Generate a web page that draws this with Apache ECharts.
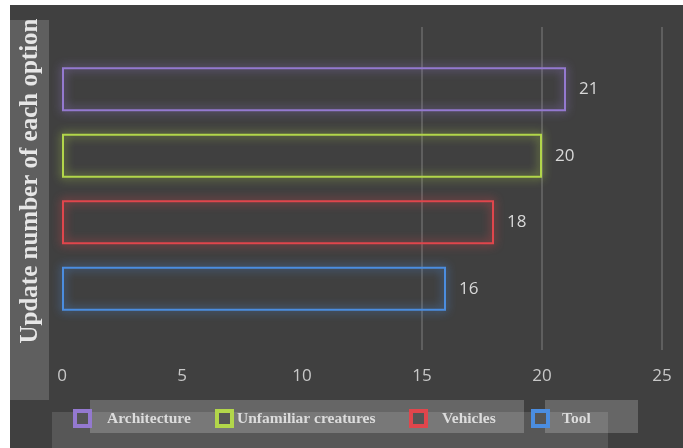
<!DOCTYPE html>
<html><head><meta charset="utf-8">
<script src="https://cdn.jsdelivr.net/npm/echarts@6/dist/echarts.min.js"></script>
<style>html,body{margin:0;padding:0;background:#fff;}#c{width:683px;height:448px;}</style>
</head><body><div id="c"></div>
<script>
const categories = ['Architecture', 'Unfamiliar creatures', 'Vehicles', 'Tool'];
const values = [21, 20, 18, 16];
const colors = ['#9479d0', '#b2d64a', '#e0464c', '#4b8de0'];
const xTicks = [0, 5, 10, 15, 20, 25];
const yTitle = 'Update number of each option';

const chart = echarts.init(document.getElementById('c'));
const series = categories.map((name, i) => ({
  name: name,
  type: 'bar',
  stack: 'all',
  xAxisIndex: 0, yAxisIndex: 0,
  barWidth: 44,
  data: categories.map((c, j) => j === i ? values[i] : null),
  itemStyle: {
    color: 'rgba(0,0,0,0)',
    borderColor: colors[i],
    borderWidth: 2,
    shadowBlur: 10,
    shadowColor: colors[i]
  },
  label: {
    show: true, position: 'right', distance: 13,
    color: '#d8d8d8', fontSize: 17, fontFamily: 'Open Sans'
  }
}));
const legendLeft = [73, 215, 409, 531];
const legendPad = [12, 0, 11, 9];
const option = {
  backgroundColor: '#404040',
  animation: false,
  graphic: [
    {type: 'rect', left: 0, top: 0, shape: {width: 10, height: 448}, style: {fill: '#ffffff'}, z: 100},
    {type: 'rect', left: 0, top: 0, shape: {width: 683, height: 5}, style: {fill: '#ffffff'}, z: 100},
    {type: 'rect', left: 10, top: 20, shape: {width: 39, height: 380}, style: {fill: '#5f5f5f'}, z: -1},
    {type: 'rect', left: 90, top: 400, shape: {width: 434, height: 33}, style: {fill: 'rgba(255,255,255,0.2)'}, z: -1},
    {type: 'rect', left: 545, top: 400, shape: {width: 93, height: 33}, style: {fill: 'rgba(255,255,255,0.2)'}, z: -1},
    {type: 'rect', left: 52, top: 412, shape: {width: 556, height: 36}, style: {fill: 'rgba(255,255,255,0.12)'}, z: -1},
    {type: 'text', x: 31, y: 181, rotation: Math.PI / 2,
     style: {text: yTitle, x: 0, y: 0, align: 'center', verticalAlign: 'middle',
       fill: '#e6e6e6', font: 'bold 25px "Liberation Serif"'}, z: 10}
  ],
  grid: [
    {left: 62, right: 21, top: 56, bottom: 126},
    {left: 62, right: 21, top: 27, bottom: 98}
  ],
  xAxis: [
    {gridIndex: 0, type: 'value', min: 0, max: 25, interval: 5, show: false},
    {gridIndex: 1, type: 'value', min: 0, max: 25, interval: 5,
     axisLine: {show: false}, axisTick: {show: false},
     axisLabel: {color: '#c8c8c8', fontSize: 17, fontFamily: 'Open Sans', margin: 18,
       formatter: v => xTicks.includes(v) ? String(v) : ''},
     splitLine: {show: true, lineStyle: {color: ['rgba(0,0,0,0)', 'rgba(0,0,0,0)', 'rgba(0,0,0,0)', '#6a6a6a', '#6a6a6a', '#6a6a6a'], width: 1.5}}}
  ],
  yAxis: [
    {gridIndex: 0, type: 'category', data: categories, inverse: true, show: false},
    {gridIndex: 1, type: 'category', data: categories, inverse: true, show: false}
  ],
  legend: categories.map((name, i) => ({
    data: [name],
    left: legendLeft[i], top: 409, padding: 0,
    icon: 'rect', itemWidth: 15, itemHeight: 15,
    itemStyle: {color: '#555555', borderWidth: 4, borderColor: colors[i], shadowBlur: 0},
    textStyle: {color: '#dcdcdc', fontSize: 15.5, fontWeight: 'bold', fontFamily: 'Liberation Serif', padding: [0, 0, 0, legendPad[i]]},
    selectedMode: false
  })),
  series: series
};
chart.setOption(option);
</script></body></html>
